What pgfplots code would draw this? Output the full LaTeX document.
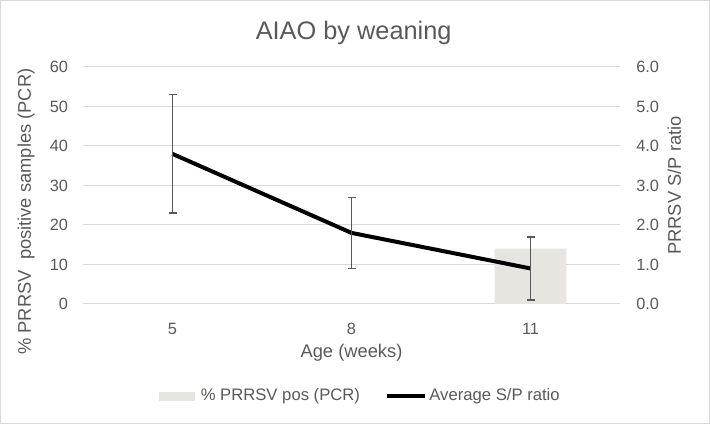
\documentclass[border=0pt]{standalone}
\usepackage{fontspec}
\setmainfont{Liberation Sans}
\usepackage{pgfplots}
\pgfplotsset{compat=1.18}

\definecolor{txt}{HTML}{595959}
\definecolor{grd}{HTML}{D9D9D9}
\definecolor{barc}{HTML}{E7E5DF}

\pgfplotsset{
  common/.style={
    at={(62.25pt,90pt)}, anchor=south west,
    scale only axis, width=402.75pt, height=177.75pt,
    xmin=-0.5, xmax=2.5,
    xtick={0,1,2}, xticklabels={5,8,11},
    major tick length=0pt,
    axis line style={draw=none},
    tick label style={font=\fontsize{12.25}{14}\selectfont, text=txt, inner sep=0pt},
    /pgf/number format/assume math mode=true,
    label style={font=\fontsize{13.75}{16}\selectfont, text=txt},
    xticklabel shift=14pt,
    every axis title shift=0pt,
  }
}

\begin{document}
\begin{tikzpicture}
\draw[grd, line width=0.75pt] (0.375pt,0.375pt) rectangle (532.125pt,317.625pt);

% left axis: bars
\begin{axis}[common,
    ymin=0, ymax=60, ytick={0,10,...,60},
    yticklabel shift=11pt,
    ymajorgrids, grid style={grd, line width=0.75pt},
    title={AIAO by weaning},
    title style={at={(axis description cs:0.504,1.145)}, anchor=center,
                 font=\fontsize{19}{22}\selectfont, text=txt},
    xlabel={Age (weeks)},
    xlabel style={at={(axis description cs:0.5,-0.207)}, anchor=center},
    ylabel={\% PRRSV\ \ positive samples (PCR)},
    ylabel style={at={(axis description cs:-0.106,0.39)}, anchor=center},
  ]
  \addplot[ybar, bar width=0.4, fill=barc, draw=none]
    coordinates {(0,0) (1,0) (2,14)};
\end{axis}

% right axis: S/P ratio line
\begin{axis}[common,
    hide x axis,
    axis y line*=right,
    ymin=0, ymax=6, ytick={0,1,...,6},
    yticklabel shift=12pt,
    yticklabel style={/pgf/number format/.cd, fixed, fixed zerofill, precision=1},
    ylabel={PRRSV S/P ratio},
    ylabel style={at={(axis description cs:1.101,0.5)}, anchor=center},
    legend columns=2,
    legend style={at={(axis description cs:0.517,-0.388)}, anchor=center,
                  draw=none, fill=none, font=\fontsize{12.5}{14}\selectfont,
                  text=txt, cells={anchor=west},
                  /tikz/every even column/.append style={column sep=17pt}},
  ]
  \addlegendimage{legend image code/.code={\fill[barc] (0pt,-3pt) rectangle (26pt,3pt); \path (29pt,0pt);}}
  \addlegendentry{\% PRRSV pos (PCR)}
  \addplot[black, line width=3pt, line join=round, mark=none,
           legend image code/.code={\draw[black, line width=3pt] (0pt,0pt) -- (28pt,0pt);},
           error bars/.cd, y dir=both, y explicit,
           error bar style={txt, line width=1pt},
           error mark options={rotate=90, txt, mark size=3pt, line width=1pt}]
    coordinates {(0,3.8) +- (0,1.5) (1,1.8) +- (0,0.9) (2,0.9) +- (0,0.8)};
  \addlegendentry{Average S/P ratio}
\end{axis}
\end{tikzpicture}
\end{document}
